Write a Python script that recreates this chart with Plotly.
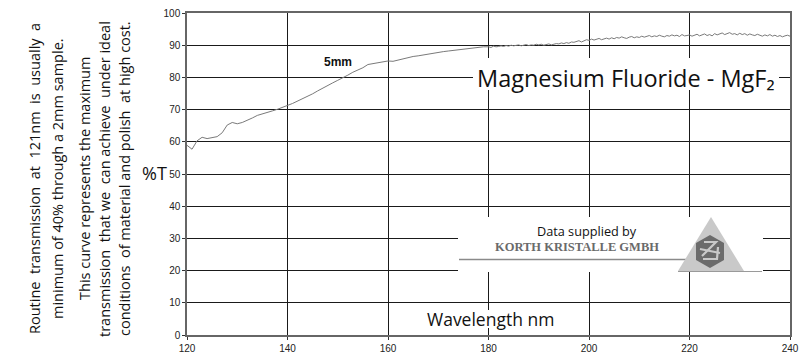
import plotly.graph_objects as go

wavelength_coarse = list(range(120, 180))
transmission_coarse = [
    58.9, 57.7, 60.3, 61.4, 61.0, 61.2, 61.6, 62.8, 65.2, 66.0,
    65.6, 66.0, 66.6, 67.4, 68.2, 68.6, 69.2, 69.6, 70.1, 70.6,
    71.3, 71.9, 72.6, 73.3, 74.0, 74.9, 75.8, 76.7, 77.4, 78.3,
    79.1, 79.8, 80.7, 81.6, 82.3, 83.0, 84.0, 84.3, 84.6, 84.9,
    85.1, 85.0, 85.4, 85.9, 86.2, 86.5, 86.7, 87.0, 87.3, 87.5,
    87.8, 88.0, 88.2, 88.4, 88.6, 88.8, 88.9, 89.1, 89.3, 89.5,
]
wavelength_fine = [180 + 0.5 * i for i in range(121)]
transmission_fine = [
    89.5, 89.3, 89.7, 89.5, 89.6, 89.8, 89.6, 89.9, 89.7, 90.0,
    89.8, 90.0, 90.1, 89.8, 90.0, 90.2, 89.9, 90.1, 90.0, 90.3,
    90.1, 90.3, 90.0, 90.2, 90.4, 90.1, 90.3, 90.5, 90.4, 90.7,
    90.5, 90.8, 90.6, 91.0, 90.9, 91.2, 91.4, 91.0, 91.3, 91.7,
    91.5, 91.9, 91.6, 91.8, 92.1, 91.7, 92.0, 92.2, 91.9, 92.3,
    92.0, 92.4, 92.2, 92.6, 92.3, 92.1, 92.5, 92.7, 92.3, 92.6,
    92.4, 92.8, 92.5, 92.7, 93.0, 92.6, 92.9, 92.7, 93.1, 92.8,
    92.6, 93.0, 92.8, 93.2, 92.9, 93.1, 92.7, 93.3, 92.9, 93.0,
    93.2, 92.8, 93.0, 93.4, 92.9, 93.1, 93.5, 93.0, 93.3, 92.9,
    93.6, 93.2, 93.4, 93.8, 93.3, 93.5, 93.9, 93.4, 93.6, 93.2,
    93.7, 93.3, 93.6, 93.1, 93.5, 93.2, 93.0, 93.4, 93.1, 92.8,
    93.2, 92.9, 93.3, 92.8, 93.1, 92.7, 93.0, 92.6, 92.9, 93.1,
    92.8,
]
x_ticks = [120, 140, 160, 180, 200, 220, 240]
y_ticks = [0, 10, 20, 30, 40, 50, 60, 70, 80, 90, 100]

title_text = "Magnesium Fluoride - MgF₂"
x_title = "Wavelength nm"
y_title = "%T"
curve_label = "5mm"
NB = "\u00a0"
note_lines = [
    f"Routine {NB}transmission {NB}at {NB}121nm {NB}is {NB}usually {NB}a",
    "minimum of 40% through a 2mm sample.",
    "This curve represents the maximum",
    f"transmission {NB}that we {NB}can achieve {NB}under ideal",
    f"conditions {NB}of material and polish {NB}at high cost.",
]
supplier_lines = ["Data supplied by", "KORTH KRISTALLE GMBH"]

W, H = 800, 361
ML, MR, MT, MB = 187, 10, 13, 26
PW, PH = W - ML - MR, H - MT - MB


def X(px):
    return (px - ML) / PW


def Y(py):
    return (H - MB - py) / PH


fig = go.Figure()
fig.add_trace(go.Scatter(
    x=wavelength_coarse + wavelength_fine,
    y=transmission_coarse + transmission_fine, mode="lines",
    line=dict(color="#7a7a7a", width=1), hoverinfo="skip", showlegend=False,
))

axis_common = dict(
    showgrid=True, gridcolor="#1a1a1a", gridwidth=1.3,
    showline=True, mirror=True, linecolor="#666666", linewidth=1.5,
    ticks="outside", ticklen=3, tickcolor="#333333",
    tickfont=dict(family="Arial, Liberation Sans", size=10, color="#222222"),
    zeroline=False, fixedrange=True, automargin=False,
)
fig.update_xaxes(range=[120, 240], tickvals=x_ticks, **axis_common)
fig.update_yaxes(range=[0, 100], tickvals=y_ticks, **axis_common)

shapes = []
for (x0, x1, y0, y1) in [(473, 779, 58, 90), (425, 556, 310, 328), (458, 763, 217, 272)]:
    shapes.append(dict(type="rect", xref="paper", yref="paper",
                       x0=X(x0), x1=X(x1), y0=Y(y1), y1=Y(y0),
                       fillcolor="white", line=dict(width=0), layer="above"))

shapes.append(dict(type="line", xref="paper", yref="paper",
                   x0=X(459), x1=X(688), y0=Y(259.5), y1=Y(259.5),
                   line=dict(color="#8a8a8a", width=1.5), layer="above"))
shapes.append(dict(type="line", xref="paper", yref="paper",
                   x0=X(678), x1=X(762), y0=Y(271.5), y1=Y(271.5),
                   line=dict(color="#9a9a9a", width=1.2), layer="above"))


def path(pts):
    s = "M " + " L ".join(f"{X(a):.5f},{Y(b):.5f}" for a, b in pts)
    return s + " Z"


def polyline(pts):
    return "M " + " L ".join(f"{X(a):.5f},{Y(b):.5f}" for a, b in pts)


shapes.append(dict(type="path", xref="paper", yref="paper",
                   path=path([(711, 217), (678, 271), (744, 271)]),
                   fillcolor="#c9c9c9", line=dict(width=0), layer="above"))
shapes.append(dict(type="path", xref="paper", yref="paper",
                   path=path([(710, 235), (724, 243), (724, 260), (710, 268), (696, 260), (696, 243)]),
                   fillcolor="#6b6b6b", line=dict(width=0), layer="above"))
for pts in [[(704, 242), (716, 242), (702, 256)],
            [(703, 259), (717, 259), (718, 247)],
            [(700, 249), (710, 251), (720, 253)]]:
    shapes.append(dict(type="path", xref="paper", yref="paper",
                       path=polyline(pts), line=dict(color="#c9c9c9", width=2.2),
                       layer="above"))

fig.update_layout(shapes=shapes)

ann = []
ann.append(dict(text=title_text, x=X(626), y=Y(78),
                font=dict(family="Open Sans", size=23.5, color="#111111")))
ann.append(dict(text=x_title, x=X(490), y=Y(319),
                font=dict(family="Open Sans", size=17.5, color="#111111")))
ann.append(dict(text=f"<b>{curve_label}</b>", x=X(337.5), y=Y(62),
                font=dict(family="Arial, Liberation Sans", size=12, color="#111111")))
ann.append(dict(text=y_title, x=X(154), y=Y(173),
                font=dict(family="Open Sans", size=18, color="#111111")))
ann.append(dict(text=supplier_lines[0], x=X(587), y=Y(231),
                font=dict(family="Open Sans", size=12.7, color="#111111")))
ann.append(dict(text=f"<b>{supplier_lines[1]}</b>", x=X(577), y=Y(247),
                font=dict(family="Liberation Serif", size=12.5, color="#6a6a6a")))
for px, line in zip([34, 57, 84, 104, 124], note_lines):
    ann.append(dict(text=line, x=X(px), y=Y(179), textangle=-90,
                    font=dict(family="Open Sans", size=14.5, color="#111111")))
for a in ann:
    a.update(xref="paper", yref="paper", showarrow=False,
             xanchor="center", yanchor="middle")

fig.update_layout(
    annotations=ann,
    width=W, height=H,
    margin=dict(l=ML, r=MR, t=MT, b=MB, pad=0),
    paper_bgcolor="white", plot_bgcolor="white",
    showlegend=False,
)

fig.write_html("out.html", config={"displayModeBar": False},
               post_script="document.body.style.margin='0';document.body.style.overflow='hidden';")
